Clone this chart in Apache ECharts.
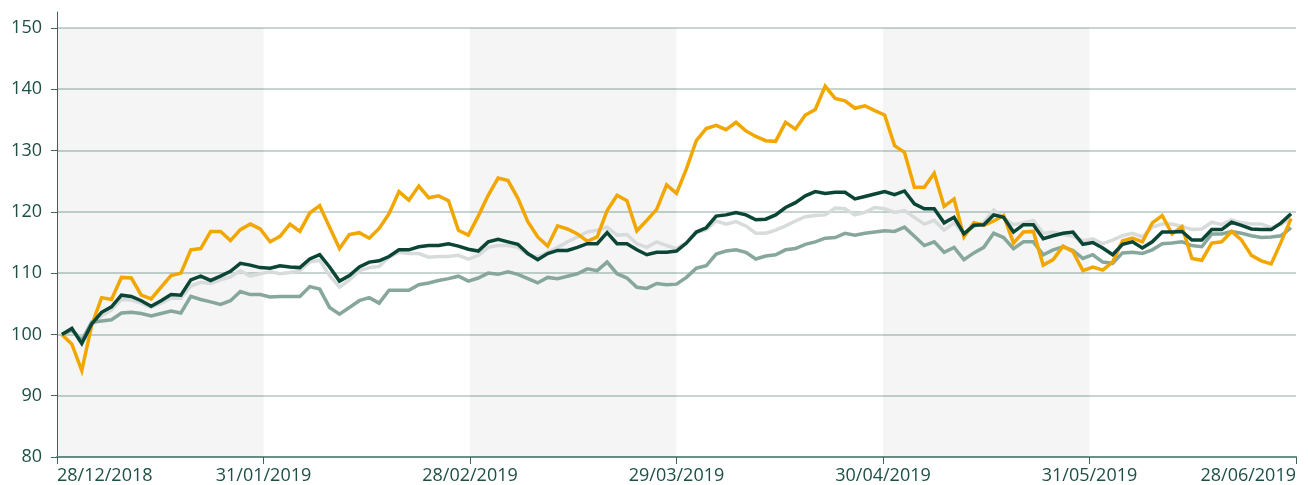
<!DOCTYPE html>
<html>
<head>
<meta charset="utf-8">
<script src="https://cdn.jsdelivr.net/npm/echarts@6/dist/echarts.min.js"></script>
<style>
html,body{margin:0;padding:0;background:#ffffff;}
#chart{width:1308px;height:485px;}
</style>
</head>
<body>
<div id="chart"></div>
<script>
const tickLabels = ['28/12/2018', '31/01/2019', '28/02/2019', '29/03/2019', '30/04/2019', '31/05/2019', '28/06/2019'];
const yTicks = [80, 90, 100, 110, 120, 130, 140, 150];
const shadedPeriods = [0, 2, 4];

const fundOrange = [
  100.0, 98.4, 94.1, 101.5, 106.0, 105.7, 109.3, 109.2, 106.4, 105.8,
  107.7, 109.6, 110.0, 113.8, 114.0, 116.8, 116.8, 115.3, 117.1, 118.0,
  117.2, 115.1, 116.0, 118.0, 116.8, 119.8, 121.0, 117.5, 114.0, 116.3,
  116.6, 115.7, 117.3, 119.7, 123.3, 121.9, 124.2, 122.3, 122.6, 121.8,
  117.0, 116.2, 119.3, 122.7, 125.5, 125.1, 122.2, 118.4, 115.9, 114.4,
  117.7, 117.2, 116.4, 115.2, 115.9, 120.2, 122.7, 121.8, 116.9, 118.6,
  120.4, 124.4, 123.0, 127.0, 131.6, 133.6, 134.1, 133.4, 134.6, 133.2,
  132.3, 131.6, 131.5, 134.6, 133.5, 135.8, 136.7, 140.5, 138.5, 138.1,
  136.9, 137.3, 136.5, 135.8, 130.8, 129.7, 124.0, 124.0, 126.3, 120.9,
  122.1, 115.9, 118.2, 117.8, 118.5, 119.4, 114.9, 116.7, 116.8, 111.3,
  112.2, 114.4, 113.5, 110.4, 111.0, 110.5, 111.8, 115.3, 115.7, 115.1,
  118.2, 119.4, 116.4, 117.6, 112.4, 112.1, 114.9, 115.1, 116.8, 115.4,
  112.9, 112.0, 111.5, 115.1, 118.9
];

const fundDarkGreen = [
  100.0, 101.0, 98.5, 101.7, 103.6, 104.5, 106.4, 106.2, 105.5, 104.6, 105.5, 106.5, 106.4, 108.9, 109.5, 108.8, 109.5, 110.3, 111.6, 111.3, 110.9, 110.8,
  111.2, 111.0, 110.9, 112.3, 113.0, 111.0, 108.7, 109.6, 111.0, 111.8, 112.0, 112.7, 113.8, 113.8, 114.3, 114.5, 114.5, 114.8, 114.4, 113.9, 113.6,
  115.1, 115.5, 115.1, 114.7, 113.2, 112.2, 113.2, 113.7, 113.7, 114.2, 114.8, 114.8, 116.6, 114.8, 114.8, 113.8, 113.0, 113.4, 113.4, 113.6, 114.9,
  116.7, 117.4, 119.3, 119.5, 119.9, 119.5, 118.7, 118.8, 119.5, 120.7, 121.5, 122.6, 123.3, 123.0, 123.2, 123.2, 122.1, 122.5, 122.9, 123.3, 122.8,
  123.4, 121.3, 120.5, 120.5, 118.2, 119.1, 116.4, 117.8, 117.9, 119.5, 119.1, 116.7, 117.9, 117.9, 115.6, 116.1, 116.5, 116.7, 114.7, 115.0,
  114.1, 113.0, 114.7, 115.1, 114.1, 115.1, 116.7, 116.7, 116.8, 115.4, 115.4, 117.1, 117.1, 118.3, 117.8, 117.2, 117.1, 117.1, 118.2, 119.7
];

const indexLightGrey = [
  100.0, 100.6, 99.3, 101.5, 103.0, 104.0, 105.7, 105.6, 105.1, 104.4, 105.1, 105.9, 105.9, 107.9, 108.5, 108.3, 108.9, 109.4, 110.4, 109.5, 109.9,
  110.2, 109.9, 110.1, 110.4, 111.8, 112.1, 109.6, 107.7, 108.9, 110.4, 110.9, 111.1, 112.6, 113.4, 113.2, 113.2, 112.6, 112.7, 112.7, 112.9, 112.3, 112.9,
  114.2, 114.5, 114.5, 114.2, 113.0, 112.6, 113.4, 114.2, 115.1, 115.9, 116.7, 117.0, 117.5, 116.2, 116.3, 114.8, 114.2, 115.1, 114.5, 114.0, 115.0,
  116.6, 117.1, 118.5, 118.0, 118.4, 117.7, 116.5, 116.5, 117.0, 117.7, 118.5, 119.2, 119.4, 119.5, 120.6, 120.5, 119.5, 119.9, 120.7, 120.5, 119.9,
  120.2, 119.1, 118.0, 118.6, 117.0, 118.2, 116.4, 117.6, 118.3, 120.3, 119.0, 117.9, 118.2, 118.6, 116.5, 116.7, 116.3, 116.0, 115.3, 115.6,
  114.8, 115.4, 116.1, 116.5, 115.9, 117.5, 118.0, 118.0, 117.6, 117.1, 117.2, 118.3, 117.9, 118.7, 118.2, 118.0, 118.0, 117.4, 118.0, 119.0
];

const indexGreyGreen = [
  100.0, 100.7, 99.0, 102.0, 102.2, 102.4, 103.5, 103.6, 103.4, 103.0, 103.4, 103.8, 103.5, 106.2, 105.7, 105.3, 104.9, 105.5, 107.0, 106.5, 106.5, 106.1,
  106.2, 106.2, 106.2, 107.8, 107.4, 104.4, 103.3, 104.4, 105.5, 106.0, 105.1, 107.2, 107.2, 107.2, 108.1, 108.4, 108.8, 109.1, 109.5, 108.7, 109.2,
  110.0, 109.8, 110.2, 109.8, 109.1, 108.4, 109.3, 109.1, 109.5, 109.9, 110.7, 110.4, 111.8, 109.9, 109.2, 107.7, 107.5, 108.3, 108.1, 108.2, 109.3,
  110.8, 111.2, 113.1, 113.6, 113.8, 113.4, 112.3, 112.8, 113.0, 113.8, 114.0, 114.7, 115.1, 115.7, 115.8, 116.5, 116.2, 116.5, 116.7, 116.9, 116.8,
  117.5, 116.0, 114.5, 115.1, 113.4, 114.2, 112.2, 113.3, 114.2, 116.5, 115.8, 114.0, 115.1, 115.1, 113.0, 113.8, 114.3, 113.7, 112.4, 113.0,
  111.8, 111.6, 113.3, 113.4, 113.2, 113.8, 114.8, 114.9, 115.1, 114.5, 114.3, 116.4, 116.4, 116.8, 116.5, 116.1, 115.8, 115.9, 116.1, 117.4
];

const pointIds = fundOrange.map((_, i) => i);

const textColor = '#1d4f45';
const xAxisColor = '#6b9088';
const yAxisColor = '#3c665d';
const gridColor = '#b3c7c0';
const font = 'Open Sans';

const chart = echarts.init(document.getElementById('chart'), null, { renderer: 'canvas' });

function lineSeries(name, data, color, z) {
  return {
    name: name, type: 'line', data: data, xAxisIndex: 0, yAxisIndex: 0,
    symbol: 'none', showSymbol: false, smooth: false, z: z,
    lineStyle: { width: 3.5, color: color, join: 'miter' },
    itemStyle: { color: color },
    emphasis: { disabled: true }
  };
}

chart.setOption({
  animation: false,
  backgroundColor: '#ffffff',
  grid: { left: 57, right: 12, top: 12, bottom: 28, containLabel: false },
  xAxis: [
    { type: 'category', data: pointIds, boundaryGap: true, show: false },
    {
      type: 'value', min: 0, max: tickLabels.length - 1, interval: 1, position: 'bottom',
      axisLine: { show: true, onZero: false, lineStyle: { color: xAxisColor, width: 2 } },
      axisTick: { show: true, length: 7, lineStyle: { color: yAxisColor, width: 1 } },
      axisLabel: {
        formatter: function (v) { return tickLabels[v] || ''; },
        color: textColor, fontSize: 18, fontFamily: font, margin: 10,
        alignMinLabel: 'left', alignMaxLabel: 'right'
      },
      splitLine: { show: false }
    }
  ],
  yAxis: {
    type: 'value', min: 80, max: 152.6, interval: 10, offset: 8,
    axisLine: { show: true, lineStyle: { color: yAxisColor, width: 1 } },
    axisTick: { show: true, length: 6, customValues: yTicks, lineStyle: { color: yAxisColor, width: 1 } },
    axisLabel: { color: textColor, fontSize: 18, fontFamily: font, margin: 7, customValues: yTicks },
    splitLine: { show: true, lineStyle: { color: gridColor, width: 1.5 } }
  },
  series: [
    {
      type: 'line', xAxisIndex: 1, yAxisIndex: 0, data: [], silent: true, z: 0,
      markArea: {
        silent: true,
        itemStyle: { color: 'rgba(0,0,0,0.04)' },
        data: shadedPeriods.map(p => [{ xAxis: p, yAxis: yTicks[0] }, { xAxis: p + 1, yAxis: yTicks[yTicks.length - 1] }])
      }
    },
    lineSeries('Index B', indexLightGrey, '#d8dbdc', 3),
    lineSeries('Index A', indexGreyGreen, '#87a79d', 4),
    lineSeries('Fund B', fundOrange, '#f2a600', 5),
    lineSeries('Fund A', fundDarkGreen, '#0b4536', 6)
  ]
});
</script>
</body>
</html>
